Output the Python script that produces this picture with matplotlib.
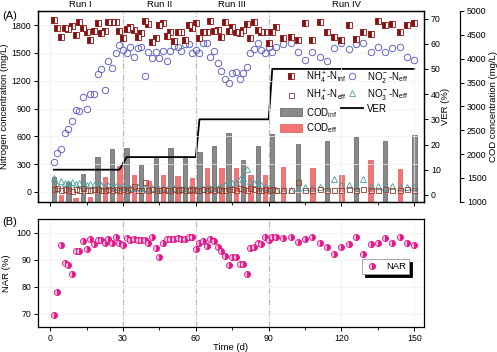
import matplotlib
matplotlib.use("Agg")
import matplotlib.pyplot as plt
from matplotlib.patches import Patch
from matplotlib.lines import Line2D

plt.rcParams['font.family'] = ['Liberation Sans', 'DejaVu Sans']
plt.rcParams['mathtext.fontset'] = 'custom'
plt.rcParams['mathtext.rm'] = 'Liberation Sans'
plt.rcParams['mathtext.it'] = 'Liberation Sans:italic'

# sampling days
days = [1.5, 3, 4.5, 6, 7.5, 9, 10.5, 12, 13.5, 15, 16.5, 18, 19.5, 21, 22.5,
        24, 25.5, 27, 28.5, 30, 31.5, 33, 34.5, 36, 37.5, 39, 40.5, 42, 43.5,
        45, 46.5, 48, 49.5, 51, 52.5, 54, 55.5, 57, 58.5, 60, 61.5, 63, 64.5,
        66, 67.5, 69, 70.5, 72, 73.5, 75, 76.5, 78, 79.5, 81, 82.5, 84, 85.5,
        87, 88.5, 90, 91.5, 93, 96, 99, 102, 105, 108, 111, 114, 117, 120,
        123, 126, 129, 132, 135, 138, 141, 144, 147, 150]

nh4_inf = [1856, 1770, 1676, 1770, 1755, 1795, 1697, 1831, 1773, 1723, 1640,
           1740, 1827, 1712, 1733, 1831, 1831, 1831, 1737, 1658, 1755, 1784,
           1751, 1669, 1712, 1842, 1809, 1622, 1665, 1798, 1820, 1683, 1723,
           1633, 1723, 1723, 1640, 1802, 1773, 1820, 1658, 1723, 1723, 1849,
           1733, 1744, 1676, 1831, 1740, 1784, 1726, 1712, 1745, 1813, 1658,
           1838, 1748, 1730, 1730, 1611, 1730, 1777, 1658, 1669, 1640, 1820,
           1640, 1834, 1726, 1669, 1640, 1802, 1647, 1723, 1701, 1845, 1802,
           1813, 1723, 1802, 1820]

no2_eff = [320, 424, 464, 633, 680, 769, 885, 874, 1022, 899, 1057, 1061, 1273,
           1327, 1100, 1417, 1341, 1503, 1589, 1532, 1496, 1561, 1453, 1550,
           1568, 1252, 1510, 1449, 1514, 1442, 1521, 1413, 1521, 1579, 1568,
           1521, 1597, 1597, 1503, 1532, 1503, 1611, 1611, 1453, 1521, 1395,
           1309, 1219, 1173, 1281, 1295, 1216, 1287, 1352, 1496, 1543, 1604,
           1532, 1496, 1568, 1514, 1568, 1597, 1611, 1514, 1424, 1514, 1460,
           1413, 1550, 1611, 1539, 1593, 1604, 1514, 1568, 1514, 1550, 1568,
           1460, 1424]

nh4_eff = [30, 45, 20, 35, 25, 15, 30, 20, 40, 25, 20, 30, 35, 25, 20, 30, 25,
           35, 20, 30, 25, 30, 60, 20, 25, 111, 20, 35, 25, 20, 30, 25, 20, 30,
           25, 35, 20, 25, 30, 20, 25, 30, 20, 35, 25, 30, 20, 25, 30, 35, 25,
           40, 30, 25, 45, 30, 20, 25, 35, 20, 30, 25, 20, 25, 111, 20, 25, 30,
           20, 25, 20, 35, 25, 30, 20, 25, 30, 20, 25, 30, 20]

no3_eff = [148, 76, 120, 93, 101, 110, 90, 95, 85, 80, 90, 75, 80, 70, 65, 70,
           60, 65, 55, 60, 50, 45, 40, 50, 45, 40, 35, 45, 40, 35, 40, 30, 35,
           40, 30, 35, 40, 30, 35, 30, 40, 35, 45, 40, 50, 45, 60, 70, 83, 100,
           111, 137, 154, 245, 120, 94, 83, 70, 57, 40, 30, 22, 22, 22, 40, 57,
           45, 57, 60, 137, 70, 76, 60, 137, 60, 65, 50, 65, 55, 57, 50]

nar = [69.4, 78.0, 95.3, 88.8, 87.9, 84.8, 93.1, 93.4, 96.8, 94.1, 97.7, 95.8,
       97.2, 97.4, 96.4, 97.8, 96.4, 98.3, 96.4, 95.5, 98.0, 97.2, 97.8, 97.4,
       97.4, 97.2, 96.4, 98.3, 94.3, 91.2, 96.2, 97.7, 97.8, 97.8, 98.0, 97.7,
       97.8, 98.3, 98.3, 94.1, 96.2, 97.0, 95.2, 97.8, 97.0, 94.7, 93.1, 91.5,
       87.9, 91.2, 90.9, 88.5, 88.4, 84.8, 94.3, 94.6, 96.4, 95.8, 98.3, 97.4,
       98.6, 98.3, 98.0, 98.3, 96.6, 97.7, 98.3, 96.4, 94.6, 92.1, 94.6, 95.8,
       98.6, 92.1, 95.8, 96.4, 98.0, 96.4, 98.3, 96.4, 95.5]

# COD bars
cod_inf_days = [1.5, 7.5, 13.5, 19.5, 25.5, 31.5, 37.5, 43.5, 49.5, 55.5, 61.5,
                67.5, 73.5, 79.5, 85.5, 91.5, 102, 114, 126, 138, 150]
cod_inf = [1512, 1421, 1583, 1933, 2109, 2130, 1772, 1933, 2123, 1968, 2050,
           2165, 2438, 1878, 2165, 2410, 2200, 2263, 2354, 2263, 2404]
cod_eff_days = [4.5, 10.5, 16.5, 22.5, 28.5, 34.5, 40.5, 46.5, 52.5, 58.5, 64.5,
                70.5, 76.5, 82.5, 88.5, 96, 108, 120, 132, 144]
cod_eff = [1141, 1070, 1105, 1512, 1758, 1568, 1427, 1570, 1547, 1491, 1701,
           1701, 1701, 1562, 1568, 1737, 1701, 1568, 1870, 1688]

# volume exchange ratio
ver_days = [1.5, 28.5, 31.5, 60, 61.5, 90, 91.5, 150]
ver = [10, 10, 15, 15, 30, 30, 50, 50]

run_labels = ['Run I', 'Run II', 'Run III', 'Run IV']
run_centers = [12.5, 45, 75, 122]
run_bounds = [30, 60, 90]

fig = plt.figure(figsize=(4.97, 3.52), dpi=100)
ax = fig.add_axes([0.0765, 0.427, 0.7767, 0.5418])
axb = fig.add_axes([0.0765, 0.0702, 0.7767, 0.3068], sharex=ax)
ax_ver = ax.twinx()
ax_cod = ax.twinx()

fs = 6.3
lfs = 6.8
dark_red = '#8b0d0d'
blue = '#6464c8'
teal = '#4aa0a0'
brown = '#9c3a2a'
magenta = '#e3178a'

# bars
ax_cod.bar(cod_inf_days, [v - 1000 for v in cod_inf], width=1.8, bottom=1000,
           color='#8a8a8a', edgecolor='#5e5e5e', linewidth=0.5)
ax_cod.bar(cod_eff_days, [v - 1000 for v in cod_eff], width=1.8, bottom=1000,
           color='#f27474', edgecolor='#e05a5a', linewidth=0.5)
ax_cod.set_ylim(1000, 5000)
ax_cod.set_yticks(range(1000, 5001, 500))
ax_cod.spines['right'].set_position(('axes', 1.093))
for s in ['top', 'left', 'bottom']:
    ax_cod.spines[s].set_visible(False)
ax_cod.set_ylabel('COD concentration (mg/L)', fontsize=lfs, labelpad=2)

# VER line
ax_ver.plot(ver_days, ver, color='black', lw=1.3)
ax_ver.set_ylim(-2.7, 73)
ax_ver.set_yticks(range(0, 71, 10))
ax_ver.set_ylabel('VER (%)', fontsize=lfs, labelpad=0)

# nitrogen series on top
ax.set_zorder(ax_ver.get_zorder() + 2)
ax.patch.set_visible(False)
ax_cod.set_zorder(ax_ver.get_zorder() - 1)

ms = 4.3
ax.plot(days, no3_eff, ls='none', marker='^', ms=4, mfc='none', mec=teal, mew=0.6)
ax.plot(days, nh4_eff, ls='none', marker='s', ms=3.6, mfc='none', mec=brown, mew=0.6)
ax.plot(days, no2_eff, ls='none', marker='o', ms=4.6, mfc='none', mec=blue, mew=0.7)
ax.plot(days, nh4_inf, ls='none', marker='s', ms=ms, fillstyle='left',
        mfc=dark_red, mfcalt='white', mec=dark_red, mew=0.6)

ax.set_ylim(-105, 1953)
ax.set_yticks(range(0, 1801, 300))
ax.set_xlim(-5, 154)
ax.set_ylabel('Nitrogen concentration (mg/L)', fontsize=lfs, labelpad=2)
ax.tick_params(labelbottom=False)
ax.grid(True, color='#f0f0f0', lw=0.5)

for b in run_bounds:
    ax.axvline(b, color='#444444', lw=0.8, ls=(0, (5, 2, 1, 2)), zorder=0)
    axb.axvline(b, color='#444444', lw=0.8, ls=(0, (5, 2, 1, 2)), zorder=0)

for lab, c in zip(run_labels, run_centers):
    ax.text(c, 1.032, lab, transform=ax.get_xaxis_transform(), ha='center',
            va='center', fontsize=lfs)

handles = [
    Line2D([], [], ls='none', marker='s', ms=ms, fillstyle='left', mfc=dark_red,
           mfcalt='white', mec=dark_red, mew=0.6),
    Line2D([], [], ls='none', marker='s', ms=3.6, mfc='none', mec=brown, mew=0.6),
    Patch(facecolor='#8a8a8a', edgecolor='#5e5e5e', lw=0.5),
    Patch(facecolor='#f27474', edgecolor='#e05a5a', lw=0.5),
    Line2D([], [], ls='none', marker='o', ms=4.6, mfc='none', mec=blue, mew=0.7),
    Line2D([], [], ls='none', marker='^', ms=4, mfc='none', mec=teal, mew=0.6),
    Line2D([], [], color='black', lw=1.3),
]
labels = [r'NH$_4^+$-N$_{\rm inf}$', r'NH$_4^+$-N$_{\rm eff}$', 'COD$_{\\rm inf}$',
          'COD$_{\\rm eff}$', r'NO$_2^-$-N$_{\rm eff}$', r'NO$_3^-$-N$_{\rm eff}$', 'VER']
ax.legend(handles, labels, ncol=2, loc='upper left', bbox_to_anchor=(0.61, 0.73),
          frameon=False, fontsize=7.0, handlelength=2.2, handletextpad=0.4,
          columnspacing=-0.5, labelspacing=0.2, borderpad=0.2, handleheight=0.9)

# panel B
axb.plot(days, nar, ls='none', marker='o', ms=4.4, fillstyle='right', mfc=magenta,
         mfcalt='#f7c4de', mec=magenta, mew=0.6, label='NAR')
axb.set_ylim(65, 105)
axb.set_yticks([70, 80, 90, 100])
axb.set_xticks(range(0, 151, 30))
axb.set_xticks(range(15, 151, 30), minor=True)
axb.set_xlabel('Time (d)', fontsize=lfs, labelpad=0)
axb.set_ylabel('NAR (%)', fontsize=lfs, labelpad=4)
axb.grid(True, color='#f0f0f0', lw=0.5)
leg = axb.legend(loc='center', bbox_to_anchor=(0.9, 0.56), fontsize=lfs,
                 fancybox=False, shadow={'color': 'black', 'alpha': 1},
                 edgecolor='#999999', handlelength=1.5, borderpad=0.3)
leg.get_frame().set_linewidth(0.6)

for a in [ax, axb, ax_ver, ax_cod]:
    a.tick_params(labelsize=fs, length=3, width=0.7, direction='out', pad=2)
    for s in a.spines.values():
        s.set_linewidth(0.9)
axb.tick_params(which='minor', length=2, width=0.6)
axb.tick_params(axis='x', pad=1.5)

fig.text(0.004, 0.955, '(A)', fontsize=8, va='center')
fig.text(0.004, 0.368, '(B)', fontsize=8, va='center')

fig.savefig('out.png', dpi=100)
